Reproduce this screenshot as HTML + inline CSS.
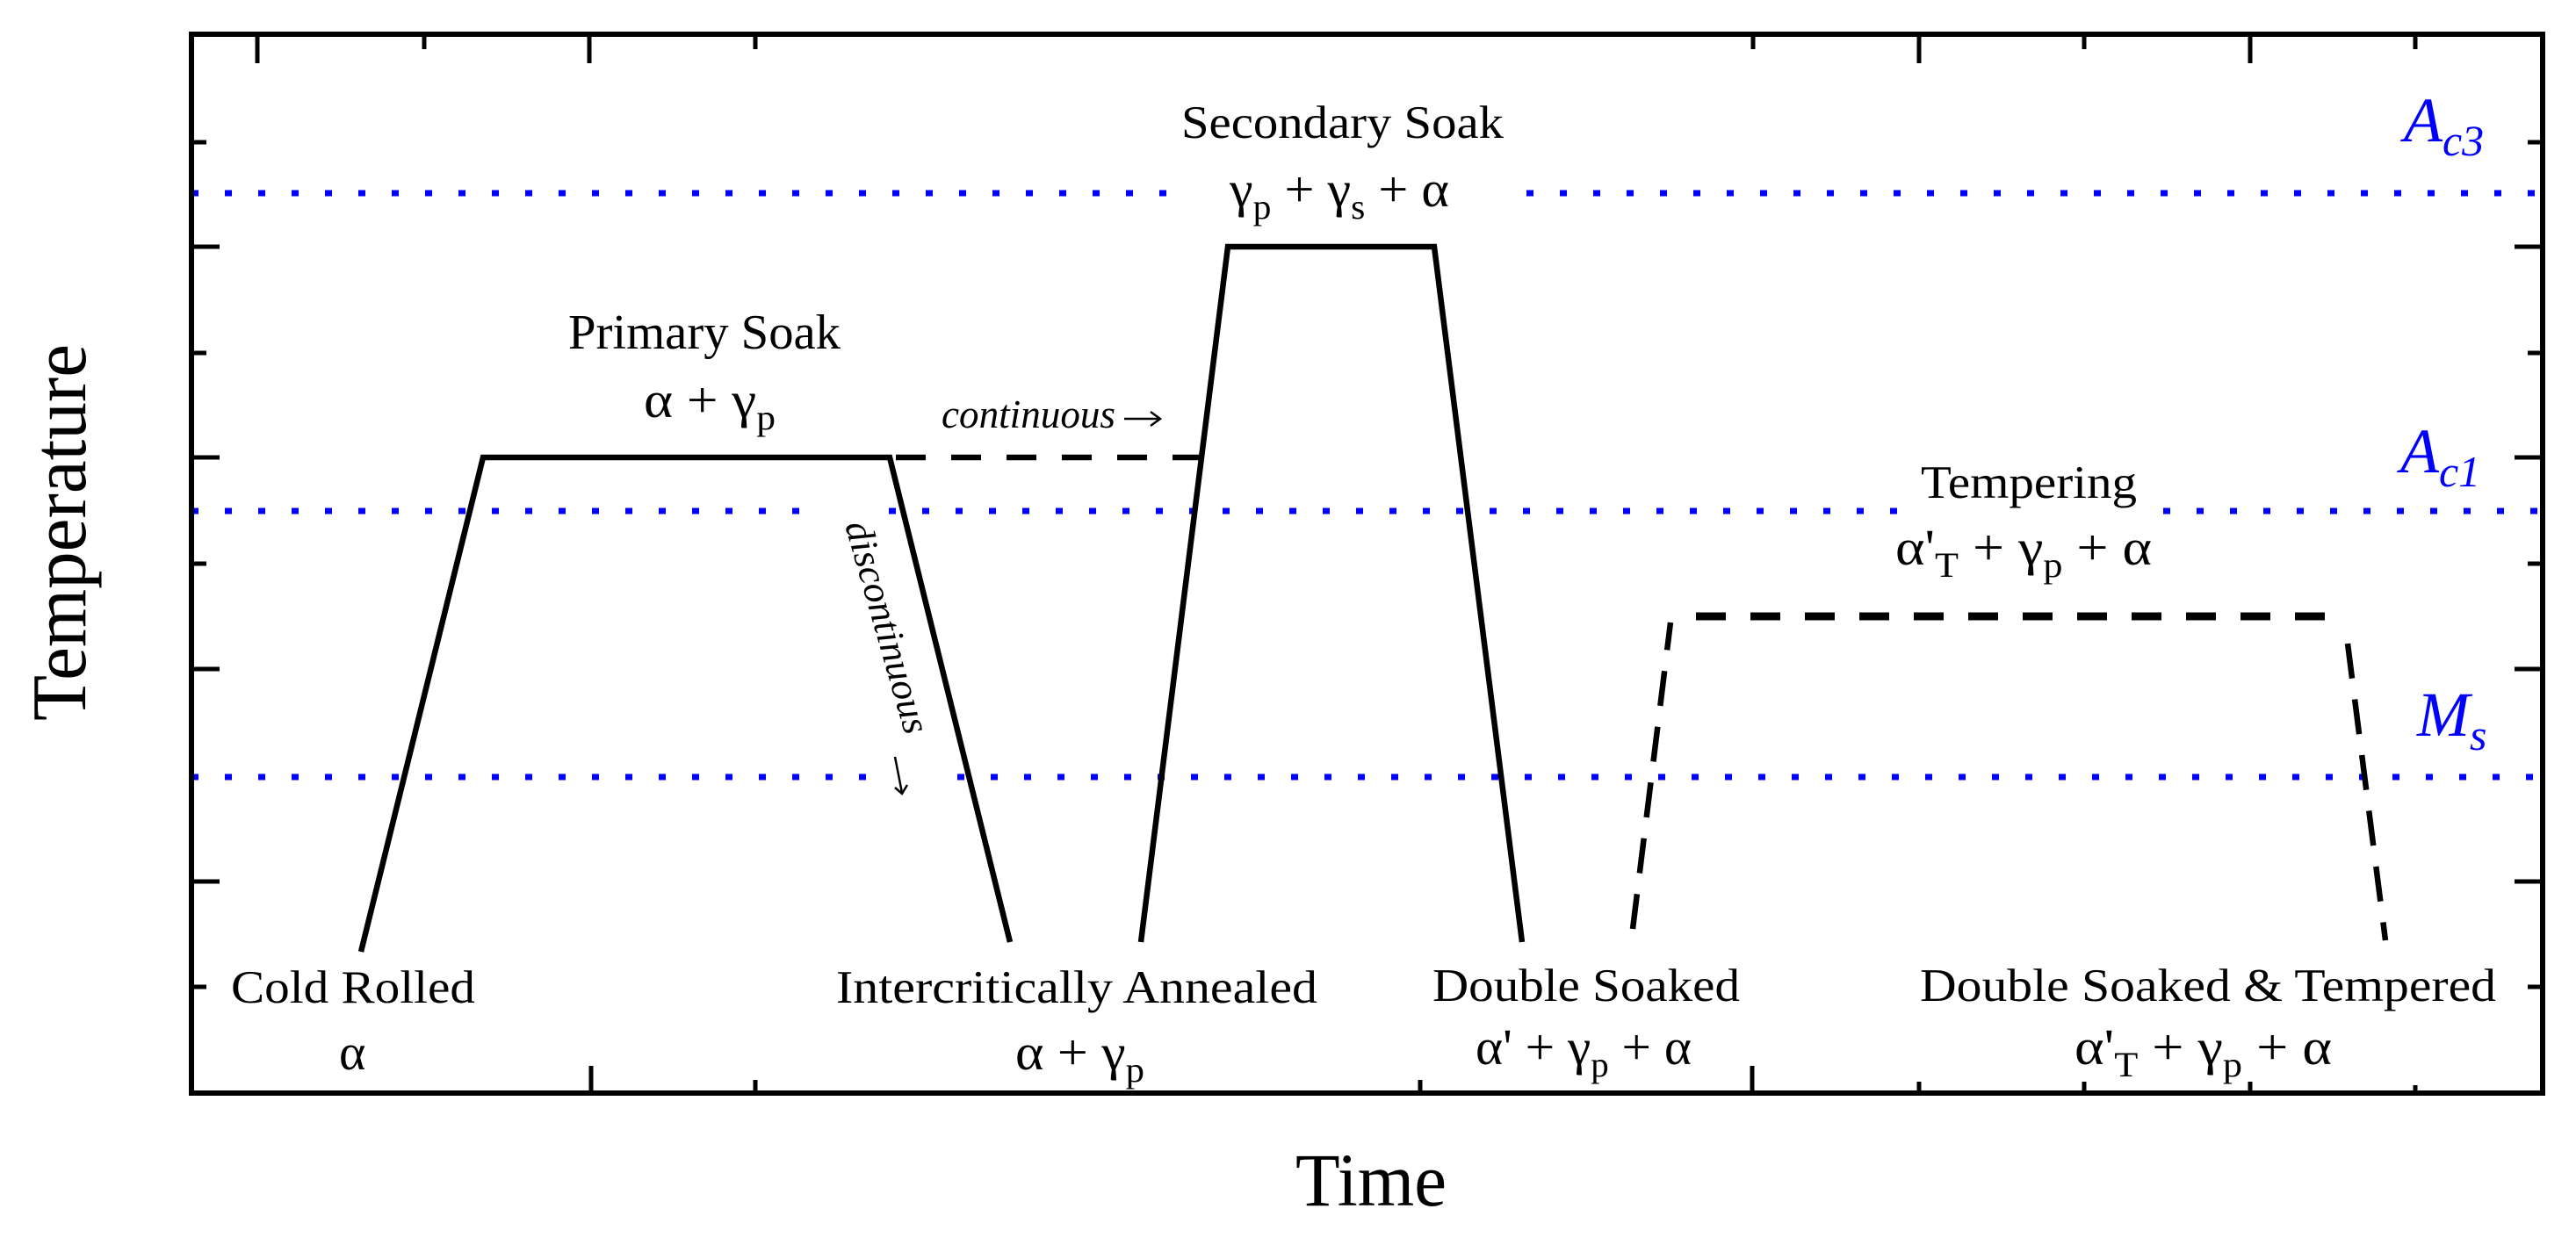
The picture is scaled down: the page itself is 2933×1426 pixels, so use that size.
<!DOCTYPE html>
<html><head><meta charset="utf-8"><style>
html,body{margin:0;padding:0;background:#fff;}
svg{display:block;}
text{font-family:"Liberation Serif",serif;fill:#000;}
</style></head><body>
<svg width="2933" height="1426" viewBox="0 0 2933 1426" xmlns="http://www.w3.org/2000/svg">
<rect width="2933" height="1426" fill="#fff"/>
<g stroke="#0000ff" stroke-width="7" stroke-dasharray="8 30">
<line x1="218" y1="220" x2="1328" y2="220"/>
<line x1="1738" y1="220" x2="2895" y2="220"/>
<line x1="218" y1="582" x2="912" y2="582"/>
<line x1="1012" y1="582" x2="2160" y2="582"/>
<line x1="2463" y1="582" x2="2895" y2="582"/>
<line x1="218" y1="885" x2="988" y2="885"/>
<line x1="1090" y1="885" x2="2895" y2="885"/>
</g>
<rect x="218" y="39" width="2677" height="1206" fill="none" stroke="#000" stroke-width="6"/>
<g stroke="#000" stroke-width="5">
<line x1="293" y1="39" x2="293" y2="72"/><line x1="483" y1="39" x2="483" y2="56"/>
<line x1="671" y1="39" x2="671" y2="72"/><line x1="860" y1="39" x2="860" y2="56"/>
<line x1="1996" y1="39" x2="1996" y2="56"/><line x1="2185" y1="39" x2="2185" y2="72"/>
<line x1="2373" y1="39" x2="2373" y2="56"/><line x1="2562" y1="39" x2="2562" y2="72"/>
<line x1="2750" y1="39" x2="2750" y2="56"/>
<line x1="673" y1="1245" x2="673" y2="1214"/><line x1="860" y1="1245" x2="860" y2="1230"/>
<line x1="1617" y1="1245" x2="1617" y2="1230"/><line x1="1995" y1="1245" x2="1995" y2="1214"/>
<line x1="2185" y1="1245" x2="2185" y2="1232"/><line x1="2373" y1="1245" x2="2373" y2="1232"/>
<line x1="2562" y1="1245" x2="2562" y2="1232"/><line x1="2750" y1="1245" x2="2750" y2="1236"/>
<line x1="218" y1="162" x2="235" y2="162"/><line x1="218" y1="281" x2="250" y2="281"/>
<line x1="218" y1="402" x2="235" y2="402"/><line x1="218" y1="521" x2="250" y2="521"/>
<line x1="218" y1="642" x2="235" y2="642"/><line x1="218" y1="762" x2="250" y2="762"/>
<line x1="218" y1="1004" x2="250" y2="1004"/><line x1="218" y1="1124" x2="235" y2="1124"/>
<line x1="2895" y1="162" x2="2878" y2="162"/><line x1="2895" y1="281" x2="2863" y2="281"/>
<line x1="2895" y1="402" x2="2878" y2="402"/><line x1="2895" y1="521" x2="2863" y2="521"/>
<line x1="2895" y1="642" x2="2878" y2="642"/><line x1="2895" y1="762" x2="2863" y2="762"/>
<line x1="2895" y1="1004" x2="2863" y2="1004"/><line x1="2895" y1="1124" x2="2878" y2="1124"/>
</g>
<g stroke="#000" stroke-width="6.5" fill="none" stroke-linejoin="miter">
<polyline points="411,1084 550,521 1013,521 1150,1073"/>
<polyline points="1299,1073 1398,281 1633,281 1733,1073"/>
<line x1="1020" y1="521" x2="1365" y2="521" stroke-dasharray="34 29"/>
<polyline points="1859,1058 1902,709" stroke-dasharray="40 24"/>
<line x1="1931" y1="702" x2="2668" y2="702" stroke-dasharray="34 28" stroke-width="9"/>
<polyline points="2673,733 2716,1071" stroke-dasharray="40 24"/>
</g>
<g stroke="#000" stroke-width="2.5" fill="none">
<line x1="1280" y1="477" x2="1320" y2="477"/><polyline points="1310,469 1321,477 1310,485"/>
<line x1="1019" y1="862" x2="1027" y2="903"/><polyline points="1019,897 1027,904 1033,894"/>
</g>
<text x="647" y="397" font-size="56" textLength="310" lengthAdjust="spacingAndGlyphs">Primary Soak</text>
<text x="733" y="475" font-size="58" textLength="150" lengthAdjust="spacingAndGlyphs">α + γ<tspan font-size="40" dy="14">p</tspan></text>
<text x="1345" y="157" font-size="53" textLength="367" lengthAdjust="spacingAndGlyphs">Secondary Soak</text>
<text x="1400" y="235" font-size="58" textLength="250" lengthAdjust="spacingAndGlyphs">γ<tspan font-size="40" dy="14">p</tspan><tspan dy="-14"> +  γ</tspan><tspan font-size="40" dy="14">s</tspan><tspan dy="-14"> + α</tspan></text>
<text x="1072" y="487" font-size="45" font-style="italic" textLength="198" lengthAdjust="spacingAndGlyphs">continuous</text>
<text transform="translate(962,598) rotate(74)" font-size="44" font-style="italic" textLength="250" lengthAdjust="spacingAndGlyphs">discontinuous</text>
<text x="2187" y="567" font-size="53" textLength="246" lengthAdjust="spacingAndGlyphs">Tempering</text>
<text x="2158" y="643" font-size="58" textLength="292" lengthAdjust="spacingAndGlyphs">α'<tspan font-size="40" dy="14">T</tspan><tspan dy="-14"> +  γ</tspan><tspan font-size="40" dy="14">p</tspan><tspan dy="-14"> + α</tspan></text>
<text x="263" y="1142" font-size="53" textLength="278" lengthAdjust="spacingAndGlyphs">Cold Rolled</text>
<text x="386" y="1218" font-size="58">α</text>
<text x="952" y="1142" font-size="53" textLength="548" lengthAdjust="spacingAndGlyphs">Intercritically Annealed</text>
<text x="1156" y="1218" font-size="58" textLength="147" lengthAdjust="spacingAndGlyphs">α + γ<tspan font-size="40" dy="14">p</tspan></text>
<text x="1631" y="1140" font-size="53" textLength="350" lengthAdjust="spacingAndGlyphs">Double Soaked</text>
<text x="1680" y="1212" font-size="58" textLength="246" lengthAdjust="spacingAndGlyphs">α' + γ<tspan font-size="40" dy="14">p</tspan><tspan dy="-14"> + α</tspan></text>
<text x="2186" y="1140" font-size="53" textLength="656" lengthAdjust="spacingAndGlyphs">Double Soaked &amp; Tempered</text>
<text x="2362" y="1212" font-size="58" textLength="293" lengthAdjust="spacingAndGlyphs">α'<tspan font-size="40" dy="14">T</tspan><tspan dy="-14"> +  γ</tspan><tspan font-size="40" dy="14">p</tspan><tspan dy="-14"> + α</tspan></text>
<text x="2737" y="161" font-size="72" font-style="italic" style="fill:#0000ff">A<tspan font-size="50" dy="16">c3</tspan></text>
<text x="2733" y="538" font-size="72" font-style="italic" style="fill:#0000ff">A<tspan font-size="50" dy="16">c1</tspan></text>
<text x="2752" y="838" font-size="72" font-style="italic" style="fill:#0000ff">M<tspan font-size="50" dy="16">s</tspan></text>
<text transform="translate(97,821) rotate(-90)" font-size="88" textLength="429" lengthAdjust="spacingAndGlyphs">Temperature</text>
<text x="1475" y="1373" font-size="86" textLength="172" lengthAdjust="spacingAndGlyphs">Time</text>
</svg>
</body></html>
